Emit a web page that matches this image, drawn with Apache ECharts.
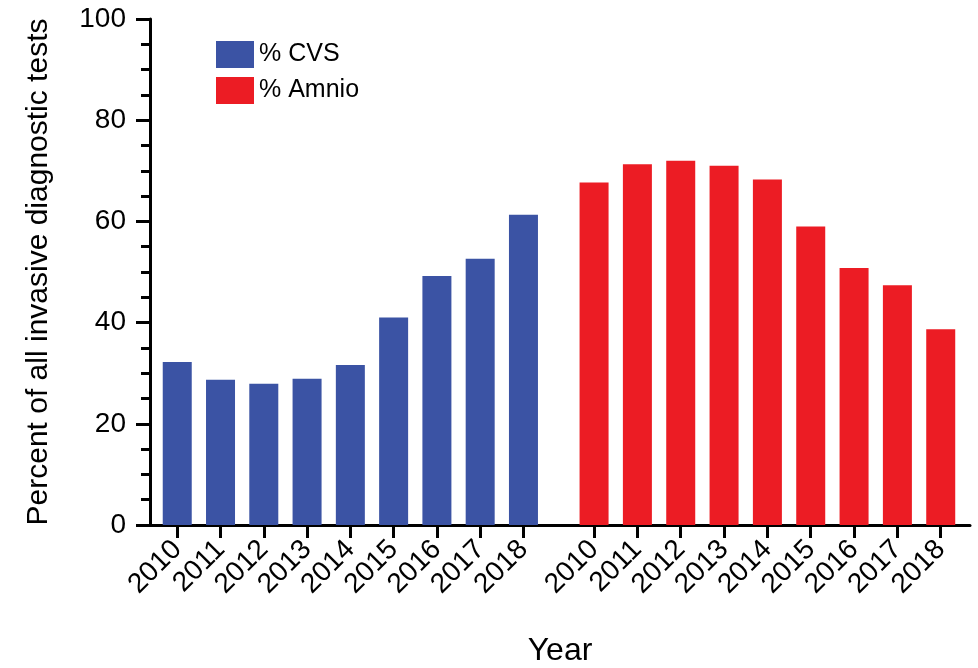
<!DOCTYPE html>
<html>
<head>
<meta charset="utf-8">
<script src="https://cdn.jsdelivr.net/npm/echarts@6/dist/echarts.min.js"></script>
<style>
html,body{margin:0;padding:0;background:#fff;}
#chart{width:978px;height:668px;}
</style>
</head>
<body>
<div id="chart"></div>
<script>
const years = ['2010','2011','2012','2013','2014','2015','2016','2017','2018'];
const cvsValues = [32.2, 28.7, 27.9, 28.9, 31.6, 41.0, 49.2, 52.6, 61.3];
const amnioValues = [67.7, 71.3, 72.0, 71.0, 68.3, 59.0, 50.8, 47.4, 38.7];
const yTicks = [0, 20, 40, 60, 80, 100];

const FONT = 'Liberation Sans, Arial, Helvetica, sans-serif';
const BLUE = '#3B53A4';
const RED = '#EC1C24';

const chart = echarts.init(document.getElementById('chart'), null, {renderer: 'canvas'});

const catAxis = (gridIndex) => ({
  type: 'category',
  gridIndex: gridIndex,
  data: years,
  axisLine: {show: false},
  axisTick: {show: true, alignWithLabel: true, length: 13, lineStyle: {color: '#000', width: 3}},
  axisLabel: {rotate: 45, fontSize: 28, color: '#000', fontFamily: FONT, margin: 20, interval: 0, hideOverlap: false}
});
const hiddenY = (gridIndex) => ({
  type: 'value', gridIndex: gridIndex, min: yTicks[0], max: yTicks[yTicks.length - 1], show: false
});

chart.setOption({
  animation: false,
  backgroundColor: '#fff',
  legend: {
    orient: 'vertical',
    left: 211, top: 36,
    itemWidth: 38, itemHeight: 27, itemGap: 9,
    icon: 'rect',
    textStyle: {fontSize: 25, color: '#000', fontFamily: FONT},
    data: ['% CVS', '% Amnio']
  },
  grid: [
    {left: 150, right: 8, top: 19, bottom: 143, outerBoundsMode: 'none', containLabel: false},
    {left: 155.6, width: 389.5, top: 19, bottom: 143, outerBoundsMode: 'none', containLabel: false},
    {left: 572.4, width: 390, top: 19, bottom: 143, outerBoundsMode: 'none', containLabel: false}
  ],
  xAxis: [
    {
      type: 'category', gridIndex: 0, data: [''],
      axisLine: {show: true, lineStyle: {color: '#000', width: 3}},
      axisTick: {show: false}, axisLabel: {show: false},
      name: 'Year', nameLocation: 'middle', nameGap: 110,
      nameTextStyle: {fontSize: 32, color: '#000', fontFamily: FONT}
    },
    catAxis(1),
    catAxis(2)
  ],
  yAxis: [
    {
      type: 'value', gridIndex: 0,
      min: yTicks[0], max: yTicks[yTicks.length - 1], interval: yTicks[1] - yTicks[0],
      axisLine: {show: true, lineStyle: {color: '#000', width: 3}},
      axisTick: {show: true, length: 14, lineStyle: {color: '#000', width: 3}},
      minorTick: {show: true, splitNumber: 4, length: 9, lineStyle: {color: '#000', width: 3}},
      splitLine: {show: false},
      axisLabel: {fontSize: 28, color: '#000', fontFamily: FONT, margin: 24},
      name: 'Percent of all invasive diagnostic tests',
      nameLocation: 'middle', nameGap: 96,
      nameTextStyle: {fontSize: 30, color: '#000', fontFamily: FONT}
    },
    hiddenY(1),
    hiddenY(2)
  ],
  series: [
    {
      name: '% CVS', type: 'bar', xAxisIndex: 1, yAxisIndex: 1,
      data: cvsValues, barWidth: 29, itemStyle: {color: BLUE}
    },
    {
      name: '% Amnio', type: 'bar', xAxisIndex: 2, yAxisIndex: 2,
      data: amnioValues, barWidth: 29, itemStyle: {color: RED}
    }
  ]
});
</script>
</body>
</html>
